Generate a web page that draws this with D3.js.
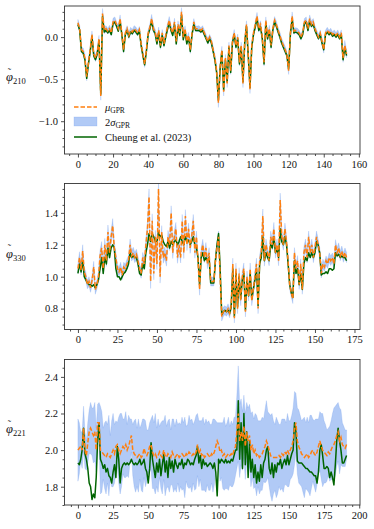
<!DOCTYPE html>
<html>
<head>
<meta charset="utf-8">
<script src="https://cdn.jsdelivr.net/npm/d3@7"></script>
<style>
body { margin: 0; background: #fff; }
svg text { font-family: "Liberation Serif", "DejaVu Serif", serif; fill: #111; }
</style>
</head>
<body>
<div id="plot"></div>
<script>
// GPR mean, GPR sigma and Cheung et al. (2023) values, one entry per index

var mu210 = [
  0.17,0.10,-0.15,-0.17,-0.25,-0.47,-0.30,-0.15,0.03,-0.20,
  -0.25,-0.18,-0.02,-0.70,0.28,0.08,0.10,0.07,0.10,0.05,
  0.18,0.20,0.15,0.10,0.22,0.05,-0.15,0.05,0.10,0.02,
  0.08,0.06,0.10,0.08,0.05,0.09,-0.08,-0.20,-0.32,-0.15,
  0.05,0.12,0.22,0.10,0.06,-0.05,0.08,-0.10,0.05,-0.08,
  0.02,0.12,0.20,0.10,0.05,0.18,-0.05,0.15,0.05,0.30,
  0.00,0.10,-0.05,0.02,-0.15,0.05,0.18,0.10,0.10,0.10,
  0.08,0.10,0.05,0.00,-0.05,0.00,-0.05,-0.15,-0.25,-0.40,
  -0.78,-0.35,-0.15,-0.65,-0.25,-0.55,-0.10,-0.40,-0.05,0.05,
  -0.10,0.00,-0.30,-0.10,-0.55,-0.05,0.15,-0.20,-0.62,-0.10,
  0.05,0.15,0.25,0.10,0.15,0.00,-0.30,0.20,0.00,0.10,
  -0.10,0.10,0.20,0.15,0.08,0.02,-0.05,-0.10,-0.15,-0.20,
  -0.40,0.05,0.25,0.07,0.08,0.07,0.05,0.00,0.05,0.18,
  0.20,0.10,0.22,0.15,0.18,0.10,0.05,0.00,0.05,-0.05,
  -0.15,0.05,0.08,0.05,0.07,0.03,0.05,0.02,0.05,0.00,
  0.05,-0.25,-0.10,-0.20
];
var cheung210 = [
  0.15,0.08,-0.17,-0.19,-0.27,-0.49,-0.32,-0.17,0.01,-0.22,
  -0.27,-0.20,-0.04,-0.68,0.25,0.06,0.08,0.05,0.08,0.03,
  0.16,0.18,0.13,0.07,0.19,0.03,-0.17,0.03,0.08,0.00,
  0.06,0.04,0.08,0.06,0.03,0.07,-0.10,-0.22,-0.33,-0.17,
  0.03,0.10,0.19,0.08,0.04,-0.08,0.05,-0.12,0.02,-0.10,
  0.00,0.09,0.17,0.08,0.02,0.15,-0.08,0.12,0.02,0.26,
  -0.03,0.07,-0.08,0.00,-0.17,0.03,0.15,0.08,0.08,0.08,
  0.06,0.08,0.03,-0.02,-0.07,-0.02,-0.07,-0.17,-0.27,-0.42,
  -0.75,-0.37,-0.17,-0.63,-0.27,-0.53,-0.12,-0.42,-0.07,0.03,
  -0.12,-0.02,-0.32,-0.12,-0.53,-0.07,0.13,-0.22,-0.60,-0.12,
  0.03,0.12,0.22,0.08,0.12,-0.02,-0.32,0.17,-0.02,0.08,
  -0.12,0.08,0.18,0.13,0.06,0.00,-0.07,-0.12,-0.17,-0.22,
  -0.38,0.03,0.22,0.05,0.06,0.05,0.03,-0.02,0.03,0.16,
  0.18,0.08,0.19,0.13,0.15,0.08,0.03,-0.02,0.03,-0.07,
  -0.15,0.03,0.06,0.03,0.05,0.01,0.03,0.00,0.03,-0.02,
  0.03,-0.27,-0.12,-0.22
];
var sigma210 = [
  .020,.018,.015,.020,.022,.025,.020,.018,.022,.020,
  .020,.018,.020,.025,.030,.020,.018,.016,.020,.018,
  .022,.020,.018,.016,.022,.018,.020,.016,.018,.020,
  .018,.016,.018,.020,.017,.018,.020,.022,.020,.018,
  .018,.020,.025,.020,.018,.022,.020,.022,.020,.020,
  .018,.020,.022,.020,.018,.022,.020,.022,.020,.025,
  .020,.018,.020,.018,.022,.018,.020,.016,.016,.018,
  .016,.018,.018,.016,.018,.016,.018,.020,.022,.025,
  .028,.022,.020,.025,.022,.025,.020,.022,.020,.020,
  .020,.018,.022,.020,.025,.020,.022,.020,.025,.020,
  .018,.020,.022,.020,.022,.018,.022,.020,.018,.020,
  .020,.018,.022,.020,.018,.020,.018,.020,.020,.018,
  .022,.020,.025,.018,.016,.018,.016,.018,.016,.020,
  .020,.018,.022,.020,.020,.018,.018,.016,.018,.020,
  .020,.016,.018,.016,.018,.016,.018,.016,.018,.016,
  .018,.025,.030,.022
];

var mu330 = [
  1.05,1.12,1.04,1.16,1.03,1.00,0.95,0.97,0.93,0.98,
  1.06,0.92,0.95,1.00,1.13,1.18,1.05,1.20,1.10,1.28,
  1.15,1.25,1.32,1.18,1.12,1.05,1.03,1.06,1.01,1.06,
  1.05,1.08,1.10,1.20,1.13,1.15,1.12,1.14,1.10,1.05,
  1.02,1.12,1.08,1.20,1.30,1.50,0.97,1.35,1.02,1.25,
  1.08,1.55,1.00,1.28,1.12,1.15,1.10,1.25,1.20,1.40,
  1.15,1.25,1.30,1.12,1.20,1.12,1.35,1.15,1.38,1.20,
  1.30,1.18,1.25,1.35,1.15,1.25,1.10,0.92,1.15,1.20,
  1.12,1.18,1.08,1.15,0.97,0.97,0.97,1.10,1.18,1.25,
  1.00,0.75,0.78,0.79,0.78,0.80,0.77,0.82,1.08,0.74,
  1.05,0.80,1.02,0.85,1.00,1.05,0.78,1.00,0.88,1.05,
  0.85,0.92,1.00,1.08,0.80,1.10,1.15,1.38,1.10,1.20,
  1.15,1.10,1.25,1.20,1.30,1.15,1.20,1.10,1.48,1.25,
  1.20,1.30,1.22,1.10,0.95,0.90,0.86,1.15,1.05,1.10,
  0.95,1.08,0.92,1.15,1.20,1.12,1.25,1.15,1.20,1.12,
  1.18,1.25,1.20,1.15,1.02,1.08,1.06,1.10,1.08,1.12,
  1.10,1.12,1.08,1.20,1.15,1.18,1.13,1.16,1.12,1.15,
  1.12
];
var cheung330 = [
  1.02,1.08,1.03,1.10,1.00,0.98,0.96,0.95,0.95,0.94,
  0.95,0.93,0.95,0.98,1.05,1.12,1.02,1.12,1.08,1.18,
  1.12,1.18,1.20,1.18,1.05,1.00,1.00,0.98,1.00,1.02,
  1.03,1.05,1.08,1.15,1.12,1.13,1.12,1.12,1.08,1.02,
  1.01,1.08,1.05,1.15,1.20,1.27,1.22,1.27,1.25,1.22,
  1.22,1.28,1.25,1.26,1.22,1.20,1.19,1.22,1.18,1.22,
  1.20,1.22,1.23,1.20,1.22,1.25,1.22,1.20,1.25,1.22,
  1.23,1.20,1.22,1.25,1.20,1.18,1.12,0.95,1.12,1.15,
  1.10,1.12,1.10,1.12,0.96,0.96,0.96,1.10,1.20,1.27,
  1.05,0.76,0.78,0.79,0.78,0.79,0.77,0.81,1.05,0.75,
  1.02,0.81,1.00,0.86,0.98,1.02,0.79,0.98,0.88,1.02,
  0.86,0.92,0.98,1.05,0.82,1.08,1.12,1.25,1.10,1.15,
  1.12,1.10,1.20,1.18,1.25,1.15,1.18,1.12,1.30,1.22,
  1.20,1.25,1.20,1.08,0.95,0.90,0.87,1.10,1.02,1.05,
  0.95,1.02,0.92,1.08,1.12,1.10,1.15,1.12,1.15,1.12,
  1.15,1.22,1.20,1.15,1.01,1.02,1.02,1.03,1.02,1.05,
  1.05,1.04,1.05,1.15,1.13,1.14,1.12,1.13,1.12,1.12,
  1.10
];
var sigma330 = [
  .015,.018,.015,.020,.015,.014,.013,.015,.014,.016,
  .018,.015,.014,.015,.018,.020,.016,.020,.018,.022,
  .018,.020,.022,.018,.016,.015,.014,.015,.014,.015,
  .014,.015,.016,.018,.016,.017,.016,.016,.015,.014,
  .015,.016,.015,.018,.020,.025,.022,.022,.020,.020,
  .018,.025,.020,.020,.018,.018,.017,.020,.018,.022,
  .018,.020,.020,.018,.018,.017,.020,.018,.020,.018,
  .018,.017,.018,.020,.017,.018,.016,.018,.016,.017,
  .016,.017,.015,.016,.014,.014,.014,.016,.017,.018,
  .016,.014,.015,.014,.014,.015,.014,.015,.018,.015,
  .018,.016,.018,.016,.017,.018,.016,.018,.016,.018,
  .016,.017,.018,.018,.016,.018,.018,.022,.017,.018,
  .017,.016,.018,.017,.020,.017,.018,.016,.022,.018,
  .017,.018,.017,.016,.015,.014,.014,.016,.015,.016,
  .015,.016,.015,.018,.018,.017,.018,.016,.018,.016,
  .017,.018,.017,.016,.014,.015,.014,.015,.014,.015,
  .015,.014,.015,.016,.015,.016,.015,.016,.015,.015,
  .016
];

var mu221 = [
  2.00,2.01,2.02,2.00,2.12,2.00,1.97,2.04,2.10,2.12,
  2.10,2.08,2.10,2.00,2.15,2.15,2.00,1.99,1.98,1.97,
  1.96,1.98,1.97,1.96,1.98,2.00,1.98,2.02,2.03,2.00,
  1.98,2.00,2.02,2.01,2.03,2.00,2.02,2.05,2.08,2.00,
  1.98,1.97,1.96,1.97,1.98,1.96,1.97,2.01,1.98,1.97,
  1.99,2.02,2.03,1.99,1.97,1.98,1.96,1.97,1.99,1.97,
  1.96,2.00,1.97,1.96,1.98,1.97,1.96,1.99,1.97,1.96,
  1.97,1.98,1.96,1.97,1.98,1.97,1.96,1.98,1.97,1.99,
  1.98,1.97,1.98,1.97,1.99,2.03,1.98,2.00,1.97,1.98,
  1.96,1.97,1.98,1.97,1.96,1.98,1.97,1.99,2.02,2.05,
  2.03,1.99,2.00,1.97,1.98,1.96,1.97,1.98,1.97,1.98,
  1.97,2.00,2.02,2.10,2.20,2.05,2.10,2.05,2.13,2.02,
  2.10,2.05,2.08,2.00,2.03,1.98,2.00,1.97,1.98,1.96,
  1.97,1.98,2.00,2.02,2.05,2.03,2.00,1.97,1.96,1.96,
  1.96,1.96,1.96,1.97,1.96,1.98,1.97,1.99,1.98,2.00,
  1.98,2.00,2.02,2.05,2.12,2.15,2.05,2.02,2.00,1.98,
  1.97,1.96,1.97,1.98,1.96,1.97,1.99,2.00,1.98,1.97,
  1.99,2.02,2.05,2.02,2.00,1.99,1.98,1.97,1.99,1.98,
  2.00,2.02,2.03,2.05,2.08,2.10,2.05,2.07,2.03,2.02,
  2.01,2.03
];
var cheung221 = [
  1.93,1.92,1.95,2.00,2.12,1.98,1.95,1.90,1.82,1.80,
  1.73,1.76,1.74,1.85,2.05,2.15,1.95,1.93,1.90,1.92,
  1.88,1.90,1.86,1.85,1.82,1.88,1.92,1.85,2.02,1.95,
  1.82,1.90,1.92,1.93,1.92,1.93,1.92,1.93,1.95,1.93,
  1.92,1.93,1.92,1.93,1.95,1.92,1.93,1.95,1.90,1.88,
  1.82,1.90,2.04,1.95,1.90,1.85,1.93,1.88,1.95,1.86,
  1.92,1.98,1.88,1.94,1.85,1.96,1.90,1.94,1.88,1.95,
  1.92,1.90,1.93,1.92,1.95,1.90,1.93,1.92,1.95,1.94,
  1.92,1.93,1.92,1.95,1.97,2.02,1.93,1.97,1.90,1.95,
  1.92,1.93,1.91,1.92,1.93,1.92,1.90,1.93,1.88,1.75,
  1.95,1.93,1.95,1.94,1.93,1.95,1.93,1.94,1.93,1.95,
  1.94,1.97,2.00,2.00,2.27,1.95,2.15,1.90,2.20,1.92,
  2.10,1.85,2.05,1.88,1.95,1.85,1.92,1.82,1.88,1.83,
  1.92,1.85,1.93,1.95,2.00,2.02,1.90,1.87,1.93,1.85,
  1.92,1.88,1.93,1.92,1.95,1.90,1.93,1.95,1.92,1.97,
  1.92,1.95,1.98,2.00,2.15,2.10,1.94,1.93,1.93,1.93,
  1.92,1.91,1.90,1.90,1.89,1.88,1.88,1.87,1.86,1.86,
  1.82,1.88,2.00,2.03,1.97,1.90,1.90,1.91,1.90,1.85,
  1.88,1.85,1.81,1.92,2.05,2.12,2.05,2.00,1.93,1.93,
  1.95,1.97
];
var sigma221 = [
  .085,.070,.040,.050,.060,.050,.040,.055,.060,.070,
  .065,.075,.080,.060,.050,.055,.120,.110,.070,.090,
  .100,.080,.110,.060,.090,.100,.080,.070,.060,.090,
  .110,.100,.075,.080,.090,.070,.085,.060,.045,.070,
  .090,.100,.080,.100,.070,.090,.100,.080,.090,.070,
  .060,.065,.070,.100,.090,.110,.080,.100,.070,.090,
  .100,.080,.110,.085,.090,.100,.075,.090,.100,.085,
  .100,.080,.095,.085,.100,.090,.110,.075,.085,.100,
  .090,.100,.080,.095,.100,.085,.090,.080,.095,.100,
  .090,.100,.085,.095,.090,.080,.100,.090,.070,.050,
  .060,.080,.075,.090,.100,.085,.090,.100,.080,.090,
  .085,.090,.080,.100,.130,.100,.090,.080,.085,.090,
  .080,.090,.085,.100,.090,.095,.100,.110,.090,.100,
  .095,.100,.085,.100,.110,.090,.100,.110,.120,.100,
  .090,.110,.100,.085,.090,.095,.100,.090,.085,.100,
  .090,.080,.085,.090,.100,.080,.090,.100,.095,.090,
  .100,.110,.090,.100,.095,.110,.100,.085,.090,.100,
  .090,.075,.080,.090,.100,.085,.080,.070,.065,.075,
  .080,.090,.100,.095,.085,.080,.090,.075,.060,.055,
  .050,.040
];

var xTicks210 = [0, 20, 40, 60, 80, 100, 120, 140, 160];
var yTicks210 = [-1.0, -0.5, 0.0];
var xTicks330 = [0, 25, 50, 75, 100, 125, 150, 175];
var yTicks330 = [0.8, 1.0, 1.2, 1.4];
var xTicks221 = [0, 25, 50, 75, 100, 125, 150, 175, 200];
var yTicks221 = [1.8, 2.0, 2.2, 2.4];

var legendLabels = ["μ", "2σ", "Cheung et al. (2023)"];

var W = 374, H = 529;
var left = 64.5, right = 360;

var panels = [
  {mu: mu210, cheung: cheung210, sigma: sigma210, sub: "210", xTicks: xTicks210, yTicks: yTicks210,
   yDomain: [-1.39, 0.37], yMinor: 0.1, top: 6, bottom: 154, legend: true},
  {mu: mu330, cheung: cheung330, sigma: sigma330, sub: "330", xTicks: xTicks330, yTicks: yTicks330,
   yDomain: [0.669, 1.584], yMinor: 0.05, top: 183.5, bottom: 329.5, legend: false},
  {mu: mu221, cheung: cheung221, sigma: sigma221, sub: "221", xTicks: xTicks221, yTicks: yTicks221,
   yDomain: [1.70, 2.495], yMinor: 0.05, top: 359.5, bottom: 505, legend: false}
];

var orange = "#ff7f0e", green = "#006400", band = "#6495ed";

var svg = d3.select("#plot")
  .append("svg")
  .attr("width", W)
  .attr("height", H);

panels.forEach(function(p, k) { drawPanel(p, k); });

function drawPanel(p, k)
{
    var n = p.mu.length - 1;
    var pad = n * 0.05;
    var x = d3.scaleLinear().domain([-pad, n + pad]).range([left, right]);
    var y = d3.scaleLinear().domain(p.yDomain).range([p.bottom, p.top]);
    var idx = d3.range(p.mu.length);

    var g = svg.append("g");

    g.append("clipPath")
      .attr("id", "clip" + k)
      .append("rect")
      .attr("x", left).attr("y", p.top)
      .attr("width", right - left).attr("height", p.bottom - p.top);

    var plot = g.append("g").attr("clip-path", "url(#clip" + k + ")");

    var area = d3.area()
      .x(function(i) { return x(i); })
      .y0(function(i) { return y(p.mu[i] - 2 * p.sigma[i]); })
      .y1(function(i) { return y(p.mu[i] + 2 * p.sigma[i]); });

    plot.append("path")
      .datum(idx)
      .attr("d", area)
      .style("fill", band)
      .style("fill-opacity", 0.5)
      .style("stroke", band)
      .style("stroke-opacity", 0.35)
      .style("stroke-width", 0.6);

    var cheungLine = d3.line()
      .x(function(i) { return x(i); })
      .y(function(i) { return y(p.cheung[i]); });

    plot.append("path")
      .datum(idx)
      .attr("d", cheungLine)
      .style("fill", "none")
      .style("stroke", green)
      .style("stroke-width", 1.5)
      .style("stroke-linejoin", "round");

    var muLine = d3.line()
      .x(function(i) { return x(i); })
      .y(function(i) { return y(p.mu[i]); });

    plot.append("path")
      .datum(idx)
      .attr("d", muLine)
      .style("fill", "none")
      .style("stroke", orange)
      .style("stroke-width", 1.5)
      .style("stroke-dasharray", "4.5,2");

    // axes: majors with labels, minors without
    var xd = x.domain(), yd = y.domain();
    var xMinor = d3.range(Math.ceil(xd[0] / 5) * 5, xd[1], 5)
      .filter(function(v) { return p.xTicks.indexOf(v) < 0; });
    var yMinor = d3.range(Math.ceil(yd[0] / p.yMinor - 1e-6) * p.yMinor, yd[1], p.yMinor)
      .filter(function(v) { return !p.yTicks.some(function(t) { return Math.abs(t - v) < 1e-6; }); });

    g.append("g")
      .attr("transform", `translate(0,${p.bottom})`)
      .call(d3.axisBottom(x).tickValues(p.xTicks).tickSize(3.5).tickPadding(3).tickFormat(d3.format("d")));
    g.append("g")
      .attr("transform", `translate(0,${p.bottom})`)
      .call(d3.axisBottom(x).tickValues(xMinor).tickSize(2).tickFormat(""));

    g.append("g")
      .attr("transform", `translate(${left},0)`)
      .call(d3.axisLeft(y).tickValues(p.yTicks).tickSize(3.5).tickPadding(3).tickFormat(d3.format(".1f")));
    g.append("g")
      .attr("transform", `translate(${left},0)`)
      .call(d3.axisLeft(y).tickValues(yMinor).tickSize(2).tickFormat(""));

    g.selectAll(".domain").remove();
    g.selectAll(".tick line").style("stroke", "#222").style("stroke-width", 0.8);
    g.selectAll(".tick text").style("font-size", "10.5px").style("fill", "#111");

    g.append("rect")
      .attr("x", left).attr("y", p.top)
      .attr("width", right - left).attr("height", p.bottom - p.top)
      .style("fill", "none")
      .style("stroke", "#333")
      .style("stroke-width", 0.9);

    // y label: phi, a tilde lifted back over it, then the mode as subscript
    var mid = (p.top + p.bottom) / 2;
    var lab = g.append("text")
      .attr("x", 6)
      .attr("y", mid + 1)
      .style("font-size", "12.5px");
    lab.append("tspan").style("font-style", "italic").text("φ");
    lab.append("tspan").attr("dx", -5.2).attr("dy", -5.5).style("font-size", "10px").text("\u02dc");
    lab.append("tspan").attr("dx", 1.9).attr("dy", 8.5).style("font-size", "8.5px").text(p.sub);

    if (p.legend) drawLegend(g);
}

function drawLegend(g)
{
    var lx = 74, tx = 105;
    var rows = [107, 122, 137];

    g.append("line")
      .attr("x1", lx).attr("x2", lx + 23)
      .attr("y1", rows[0]).attr("y2", rows[0])
      .style("stroke", orange)
      .style("stroke-width", 1.5)
      .style("stroke-dasharray", "4.5,2");

    g.append("rect")
      .attr("x", lx).attr("y", rows[1] - 5)
      .attr("width", 23).attr("height", 9)
      .style("fill", band)
      .style("fill-opacity", 0.5)
      .style("stroke", band)
      .style("stroke-opacity", 0.35)
      .style("stroke-width", 0.6);

    g.append("line")
      .attr("x1", lx).attr("x2", lx + 23)
      .attr("y1", rows[2]).attr("y2", rows[2])
      .style("stroke", green)
      .style("stroke-width", 1.5);

    legendLabels.forEach(function(label, i) {
        var t = g.append("text")
          .attr("x", tx)
          .attr("y", rows[i] + 3.5)
          .style("font-size", "10.5px");
        if (i < 2) {
            if (i == 1) t.append("tspan").text("2");
            t.append("tspan").style("font-style", "italic").text(label.slice(-1));
            t.append("tspan").attr("dy", 2.5).style("font-size", "7.5px").text("GPR");
        } else {
            t.text(label);
        }
    });
}
</script>
</body>
</html>
